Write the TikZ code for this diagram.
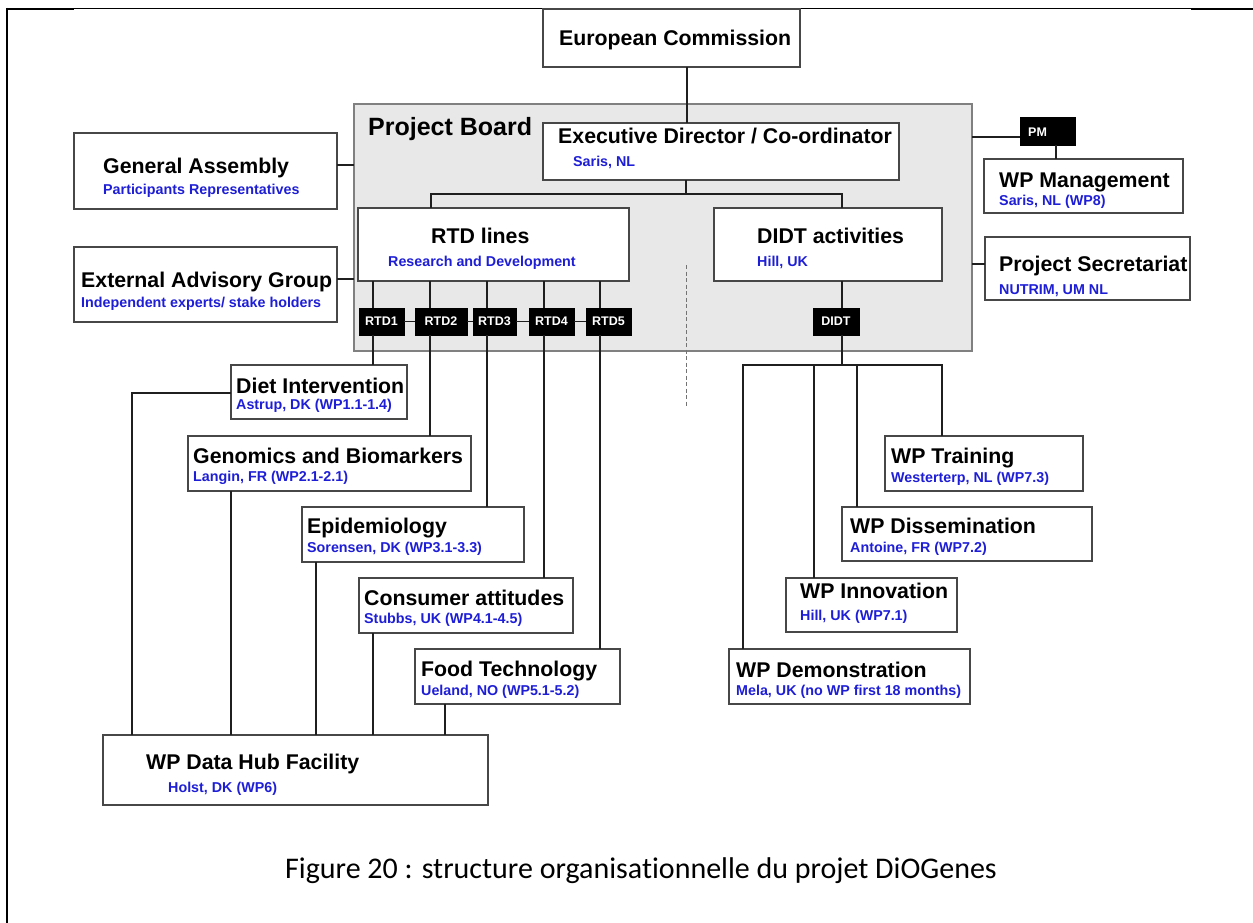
\documentclass[tikz,border=0pt]{standalone}
\usepackage{fontspec}
\setmainfont{Liberation Sans}
\newfontfamily\capfont{Carlito}[Ligatures=NoCommon]
\usetikzlibrary{calc}
\definecolor{subblue}{RGB}{30,30,215}
\definecolor{boardgray}{RGB}{232,232,232}
\begin{document}
\begin{tikzpicture}[x=1pt,y=-1pt,
  box/.style={draw=black!72, line width=1.2pt, fill=white, inner sep=0pt, outer sep=0pt, anchor=north west},
  blk/.style={draw=black, fill=black, line width=0.5pt, inner sep=0pt, outer sep=0pt, anchor=north west},
  ttl/.style={anchor=base west, inner sep=0pt, font=\bfseries\fontsize{21.3}{21.3}\selectfont},
  sub/.style={anchor=base west, inner sep=0pt, text=subblue, font=\bfseries\fontsize{14.3}{14.3}\selectfont},
  wlbl/.style={inner sep=0pt, text=white, font=\bfseries\fontsize{12.5}{12.5}\selectfont},
  conn/.style={line width=1.3pt, black!88},
  frame/.style={black}
]
\useasboundingbox (0,0) rectangle (1253,923);
% outer frame
\draw[frame, line width=1pt] (7,9) -- (1253,9);
\draw[frame, line width=2.2pt] (7,9) -- (74,9);
\draw[frame, line width=2.2pt] (1191,9) -- (1253,9);
\draw[frame, line width=2pt] (7,8) -- (7,923);

% project board
\node[box, draw=black!50, fill=boardgray, minimum width=972-354, minimum height=351-104] (board) at (354,104) {};
\node[anchor=base west, inner sep=0pt, font=\bfseries\fontsize{25}{25}\selectfont] (pb-t) at (368,136) {Project Board};

% boxes
\node[box, minimum width=800-543, minimum height=67-9] (ec) at (543,9) {};
\node[box, minimum width=899-543, minimum height=180-123] (exec) at (543,123) {};
\node[box, minimum width=629-358, minimum height=281-208] (rtdl) at (358,208) {};
\node[box, minimum width=942-714, minimum height=281-208] (didta) at (714,208) {};
\node[box, minimum width=337-74, minimum height=209-133] (ga) at (74,133) {};
\node[box, minimum width=337-74, minimum height=322-247] (eag) at (74,247) {};
\node[box, minimum width=1183-984, minimum height=213-159] (wpm) at (984,159) {};
\node[box, minimum width=1190-985, minimum height=300-237] (sec) at (985,237) {};
\node[box, minimum width=407-231, minimum height=419-365] (diet) at (231,365) {};
\node[box, minimum width=471-188, minimum height=491-436] (genom) at (188,436) {};
\node[box, minimum width=524-302, minimum height=562-507] (epi) at (302,507) {};
\node[box, minimum width=573-359, minimum height=633-578] (cons) at (359,578) {};
\node[box, minimum width=620-415, minimum height=704-649] (food) at (415,649) {};
\node[box, minimum width=488-103, minimum height=805-735] (hub) at (103,735) {};
\node[box, minimum width=1083-885, minimum height=491-436] (train) at (885,436) {};
\node[box, minimum width=1092-842, minimum height=561-507] (diss) at (842,507) {};
\node[box, minimum width=957-786, minimum height=632-578] (innov) at (786,578) {};
\node[box, minimum width=970-729, minimum height=704-649] (demo) at (729,649) {};

% black label boxes
\node[blk, minimum width=404-359, minimum height=335-308] (rtd1) at (359,308) {};
\node[blk, minimum width=467-415, minimum height=335-308] (rtd2) at (415,308) {};
\node[blk, minimum width=516-473, minimum height=335-308] (rtd3) at (473,308) {};
\node[blk, minimum width=574-529, minimum height=335-308] (rtd4) at (529,308) {};
\node[blk, minimum width=631-586, minimum height=335-308] (rtd5) at (586,308) {};
\node[blk, minimum width=859-813, minimum height=335-308] (didt) at (813,308) {};
\node[blk, minimum width=1075-1020, minimum height=145-117] (pm) at (1020,117) {};
\foreach \i in {1,...,5} \node[wlbl] (rtd\i-t) at (rtd\i.center) {RTD\i};
\node[wlbl] (didt-t) at (didt.center) {DIDT};
\node[wlbl, anchor=base west] (pm-t) at (1028,137) {PM};

% texts
\node[ttl] (ec-t) at (559,46) {European Commission};
\node[ttl] (exec-t) at (558,144) {Executive Director / Co-ordinator};
\node[sub] (exec-s) at (573,166) {Saris, NL};
\node[ttl] (rtdl-t) at (431,243) {RTD lines};
\node[sub] (rtdl-s) at (388,266) {Research and Development};
\node[ttl] (didta-t) at (757,243) {DIDT activities};
\node[sub] (didta-s) at (757,266) {Hill, UK};
\node[ttl] (ga-t) at (103,173) {General Assembly};
\node[sub] (ga-s) at (103,194) {Participants Representatives};
\node[ttl] (eag-t) at (81,287) {External Advisory Group};
\node[sub] (eag-s) at (81,307) {Independent experts/ stake holders};
\node[ttl] (wpm-t) at (999,187) {WP Management};
\node[sub] (wpm-s) at (999,205) {Saris, NL (WP8)};
\node[ttl] (sec-t) at (999,271) {Project Secretariat};
\node[sub] (sec-s) at (999,294) {NUTRIM, UM NL};
\node[ttl] (diet-t) at (236,393) {Diet Intervention};
\node[sub] (diet-s) at (236,409) {Astrup, DK (WP1.1-1.4)};
\node[ttl] (genom-t) at (193,463) {Genomics and Biomarkers};
\node[sub] (genom-s) at (193,481) {Langin, FR (WP2.1-2.1)};
\node[ttl] (epi-t) at (307,533) {Epidemiology};
\node[sub] (epi-s) at (307,552) {Sorensen, DK (WP3.1-3.3)};
\node[ttl] (cons-t) at (364,605) {Consumer attitudes};
\node[sub] (cons-s) at (364,623) {Stubbs, UK (WP4.1-4.5)};
\node[ttl] (food-t) at (421,676) {Food Technology};
\node[sub] (food-s) at (421,695) {Ueland, NO (WP5.1-5.2)};
\node[ttl] (hub-t) at (146,769) {WP Data Hub Facility};
\node[sub] (hub-s) at (168,792) {Holst, DK (WP6)};
\node[ttl] (train-t) at (891,463) {WP Training};
\node[sub] (train-s) at (891,482) {Westerterp, NL (WP7.3)};
\node[ttl] (diss-t) at (850,533) {WP Dissemination};
\node[sub] (diss-s) at (850,552) {Antoine, FR (WP7.2)};
\node[ttl] (innov-t) at (800,598) {WP Innovation};
\node[sub] (innov-s) at (800,620) {Hill, UK (WP7.1)};
\node[ttl] (demo-t) at (736,677) {WP Demonstration};
\node[sub] (demo-s) at (736,695) {Mela, UK (no WP first 18 months)};

% caption
\node[anchor=base, inner sep=0pt, font=\capfont\fontsize{30}{30}\selectfont] (cap) at (641,878) {Figure 20 : structure organisationnelle du projet DiOGenes};

% helper coordinates
\coordinate (xec) at (687,0);
\coordinate (bL) at (431,194);
\coordinate (bM) at (686,194);
\coordinate (bR) at (842,194);
\coordinate (x1) at (373,0);
\coordinate (x2) at (430,0);
\coordinate (x3) at (487,0);
\coordinate (x4) at (544,0);
\coordinate (x5) at (600,0);
\coordinate (dl) at (132,393);
\coordinate (hx2) at (231,0);
\coordinate (hx3) at (316,0);
\coordinate (hx4) at (373,0);
\coordinate (hx5) at (445,0);
\coordinate (dbL) at (743,365);
\coordinate (dbM) at (842,365);
\coordinate (dbR) at (942,365);
\coordinate (dx2) at (814,0);
\coordinate (dx3) at (857,0);
\coordinate (gay) at (0,165);
\coordinate (eagy) at (0,279);
\coordinate (pmy) at (0,137);
\coordinate (pmx) at (1056,0);
\coordinate (secy) at (0,264);
\coordinate (ds1) at (686,265);
\coordinate (ds2) at (686,407);

% connectors
\draw[conn] (ec.south -| xec) -- (exec.north -| xec);
\draw[conn] (exec.south -| bM) -- (bM);
\draw[conn] (rtdl.north -| bL) -- (bL) -- (bR) -- (didta.north -| bR);
\foreach \i in {1,...,5} \draw[conn] (rtdl.south -| x\i) -- (rtd\i.north -| x\i);
\draw[conn] (rtd1.east) -- (rtd2.west) (rtd2.east) -- (rtd3.west) (rtd3.east) -- (rtd4.west) (rtd4.east) -- (rtd5.west);
\draw[conn] (rtd1.south -| x1) -- (diet.north -| x1);
\draw[conn] (rtd2.south -| x2) -- (genom.north -| x2);
\draw[conn] (rtd3.south -| x3) -- (epi.north -| x3);
\draw[conn] (rtd4.south -| x4) -- (cons.north -| x4);
\draw[conn] (rtd5.south -| x5) -- (food.north -| x5);
\draw[conn] (diet.west |- dl) -- (dl) -- (hub.north -| dl);
\draw[conn] (genom.south -| hx2) -- (hub.north -| hx2);
\draw[conn] (epi.south -| hx3) -- (hub.north -| hx3);
\draw[conn] (cons.south -| hx4) -- (hub.north -| hx4);
\draw[conn] (food.south -| hx5) -- (hub.north -| hx5);
\draw[conn] (didta.south -| dbM) -- (didt.north -| dbM);
\draw[conn] (didt.south -| dbM) -- (dbM);
\draw[conn] (demo.north -| dbL) -- (dbL) -- (dbR) -- (train.north -| dbR);
\draw[conn] (dbM -| dx2) -- (innov.north -| dx2);
\draw[conn] (dbM -| dx3) -- (diss.north -| dx3);
\draw[conn] (ga.east |- gay) -- (board.west |- gay);
\draw[conn] (eag.east |- eagy) -- (board.west |- eagy);
\draw[conn] (board.east |- pmy) -- (pm.west |- pmy);
\draw[conn] (pm.south -| pmx) -- (wpm.north -| pmx);
\draw[conn] (board.east |- secy) -- (sec.west |- secy);
\draw[black!55, line width=0.8pt, dash pattern=on 4pt off 2.5pt] (ds1) -- (ds2);
\end{tikzpicture}
\end{document}
